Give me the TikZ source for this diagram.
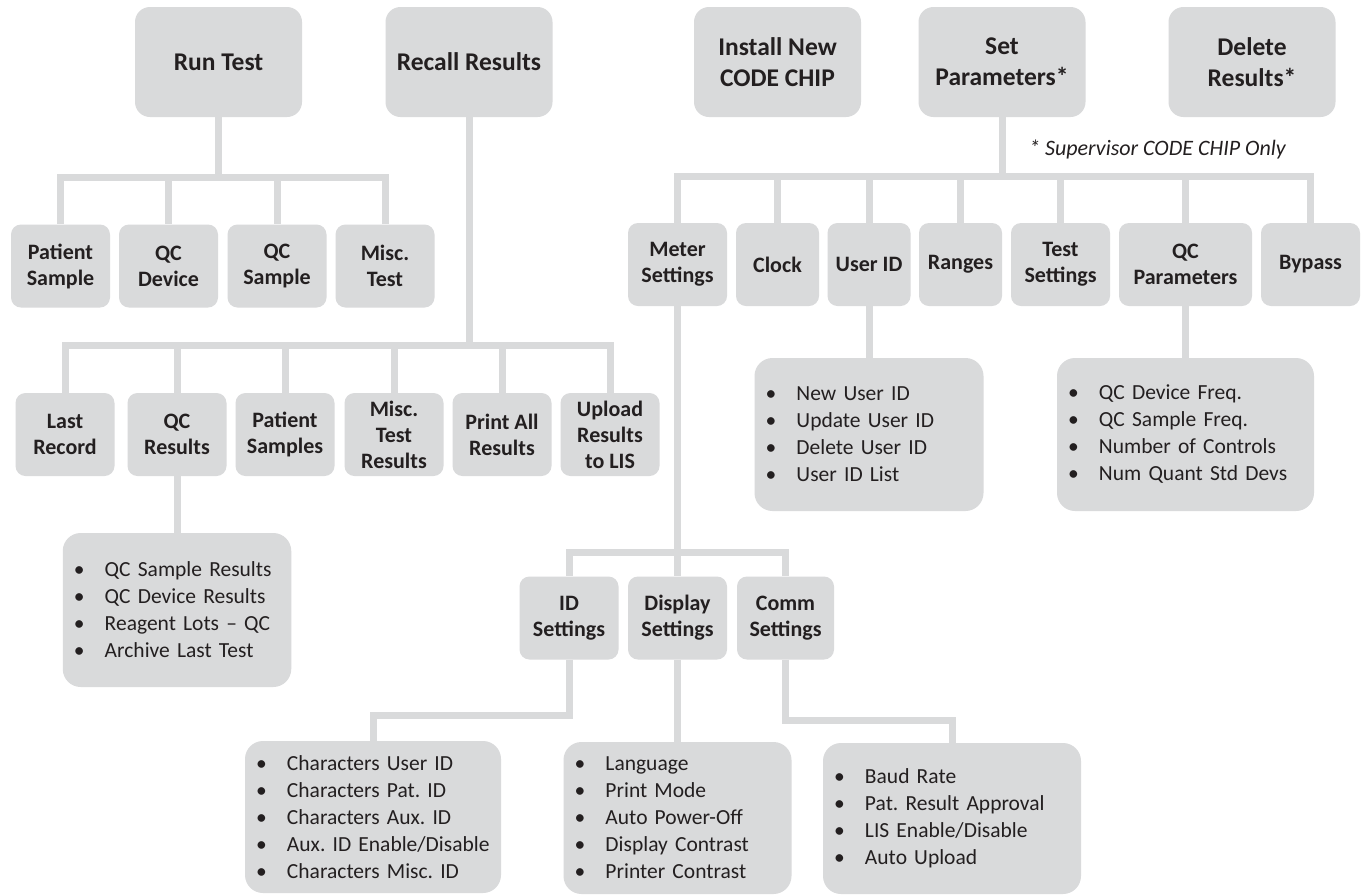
\documentclass[tikz,border=0pt]{standalone}
\usepackage{fontspec}
\setmainfont{Carlito}
\usepackage{tikz}
\frenchspacing
\definecolor{boxgray}{HTML}{D9DADB}
\definecolor{ink}{HTML}{231F20}
\tikzset{
  box/.style={fill=boxgray, text=ink, inner sep=0pt, align=center},
  topbox/.style={box, rounded corners=15pt, minimum width=167pt, minimum height=110pt,
    font=\fontsize{25.5}{31}\selectfont\bfseries},
  subbox/.style={box, rounded corners=10pt, minimum width=#1, minimum height=83pt,
    font=\fontsize{22}{26}\selectfont\bfseries},
  subbox/.default=99pt,
  listbox/.style={box, rounded corners=18pt, align=left, inner xsep=11pt, text width=#1,
    font=\fontsize{21.5}{27}\selectfont},
  link/.style={draw=boxgray, line width=7pt}
}
\newcommand{\itm}[1]{\mbox{\makebox[31pt][l]{\textbullet}#1}}
\begin{document}
\begin{tikzpicture}[x=1pt, y=-1pt]
\useasboundingbox[fill=white] (0,0) rectangle (1366,895);

\node[topbox] (runtest) at (218.5,62) {Run Test};
\node[topbox] (recall) at (469,62) {Recall Results};
\node[topbox] (install) at (777.5,62) {Install New\\CODE CHIP};
\node[topbox] (setparam) at (1002,62) {Set\\Parameters*};
\node[topbox] (delete) at (1252,62) {Delete\\Results*};
\node[anchor=base, text=ink, font=\fontsize{22}{26}\selectfont\itshape] (note) at (1157.5,155) {* Supervisor CODE CHIP Only};

\node[subbox] (patient) at (60.5,266) {Patient\\Sample};
\node[subbox] (qcdev) at (168.5,266) {QC\\Device};
\node[subbox] (qcsamp) at (277,266) {QC\\Sample};
\node[subbox] (misctest) at (385,266) {Misc.\\Test};

\node[subbox] (lastrec) at (65,434.5) {Last\\Record};
\node[subbox] (qcres) at (177,434.5) {QC\\Results};
\node[subbox] (patsamp) at (285,434.5) {Patient\\Samples};
\node[subbox] (miscres) at (394,434.5) {Misc.\\Test\\Results};
\node[subbox] (printall) at (502,434.5) {Print All\\Results};
\node[subbox] (upload) at (610,434.5) {Upload\\Results\\to LIS};

\node[subbox] (meter) at (677.5,264.5) {Meter\\Settings};
\node[subbox=83pt] (clock) at (777.5,264.5) {Clock};
\node[subbox=83pt] (userid) at (869,264.5) {User ID};
\node[subbox=83pt] (ranges) at (960.5,264.5) {Ranges};
\node[subbox] (testset) at (1060.5,264.5) {Test\\Settings};
\node[subbox=133pt] (qcparam) at (1185.5,264.5) {QC\\Parameters};
\node[subbox] (bypass) at (1310.5,264.5) {Bypass};

\node[subbox] (idset) at (569,618) {ID\\Settings};
\node[subbox] (dispset) at (677.5,618) {Display\\Settings};
\node[subbox=97pt] (commset) at (785.5,618) {Comm\\Settings};

\node[listbox=206.5pt, minimum height=154pt] (qclist) at (177,610)
  {\itm{QC Sample Results}\\\itm{QC Device Results}\\\itm{Reagent Lots -- QC}\\\itm{Archive Last Test}};
\node[listbox=207pt, minimum height=153pt] (userlist) at (869,434.5)
  {\itm{New User ID}\\\itm{Update User ID}\\\itm{Delete User ID}\\\itm{User ID List}};
\node[listbox=235pt, minimum height=153pt] (qcplist) at (1185.5,434.5)
  {\itm{QC Device Freq.}\\\itm{QC Sample Freq.}\\\itm{Number of Controls}\\\itm{Num Quant Std Devs}};
\node[listbox=234pt, minimum height=152pt] (charlist) at (373,817)
  {\itm{Characters User ID}\\\itm{Characters Pat. ID}\\\itm{Characters Aux. ID}\\\itm{Aux. ID Enable/Disable}\\\itm{Characters Misc. ID}};
\node[listbox=206pt, minimum height=152pt] (displist) at (677.5,818)
  {\itm{Language}\\\itm{Print Mode}\\\itm{Auto Power-Off}\\\itm{Display Contrast}\\\itm{Printer Contrast}};
\node[listbox=236pt, minimum height=151pt] (commlist) at (952,818.5)
  {\itm{Baud Rate}\\\itm{Pat. Result Approval}\\\itm{LIS Enable/Disable}\\\itm{Auto Upload}};

\foreach \c in {patient,qcdev,qcsamp,misctest}
  \draw[link] (runtest.south) -- ++(0,60) -| (\c.north);
\foreach \c in {lastrec,qcres,patsamp,miscres,printall,upload}
  \draw[link] (recall.south) -- ++(0,228) -| (\c.north);
\foreach \c in {meter,clock,userid,ranges,testset,qcparam,bypass}
  \draw[link] (setparam.south) -- ++(0,59) -| (\c.north);
\foreach \c in {idset,dispset,commset}
  \draw[link] (meter.south) -- ++(0,246) -| (\c.north);
\draw[link] (qcres.south) -- (qclist.north);
\draw[link] (userid.south) -- (userlist.north);
\draw[link] (qcparam.south) -- (qcplist.north);
\draw[link] (idset.south) -- ++(0,56) -| (charlist.north);
\draw[link] (dispset.south) -- (displist.north);
\draw[link] (commset.south) -- ++(0,61) -| (commlist.north);
\end{tikzpicture}
\end{document}
